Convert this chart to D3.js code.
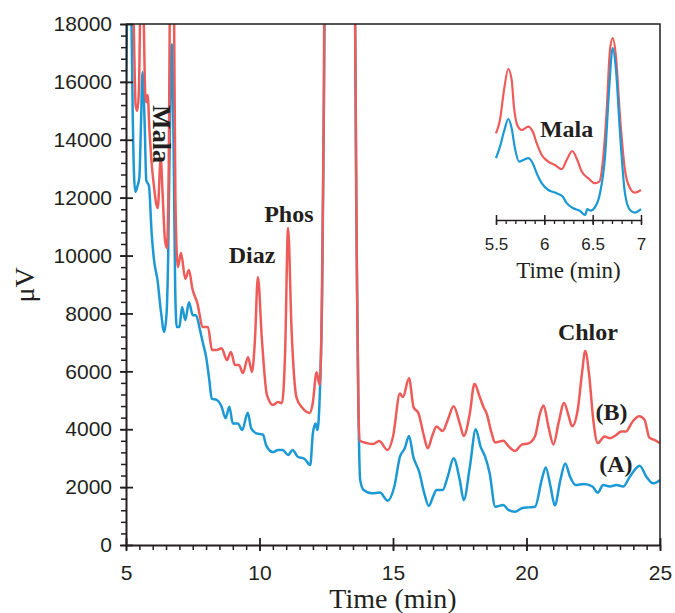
<!DOCTYPE html>
<html>
<head>
<meta charset="utf-8">
<script src="https://cdn.jsdelivr.net/npm/d3@7"></script>
<style>
  body { margin: 0; background: #fff; }
  #chart { width: 675px; height: 613px; }
  .axis path, .axis line { stroke: #231f20; }
  .axis text { font-family: "Liberation Sans", Arial, sans-serif; fill: #231f20; }
  .axisLabel { font-family: "Liberation Serif", "Times New Roman", serif; fill: #231f20; }
  .peak { font-family: "Liberation Serif", "Times New Roman", serif; font-weight: bold; fill: #231f20; }
</style>
</head>
<body>
<div id="chart"></div>
<script>
/*DATA: [time (min), signal (uV)]*/
const traceB = [
  [5.0,24000],[5.27,19000],[5.36,15200],[5.42,15000],[5.48,15600],[5.54,19000],[5.6,22000],
  [5.66,18500],[5.72,15600],[5.76,15300],[5.81,15550],[5.88,14300],[5.95,13300],[6.05,12370],
  [6.13,11800],[6.19,11640],[6.3,13370],[6.37,12160],[6.46,10530],[6.53,10260],[6.6,13000],
  [6.64,18500],[6.72,25000],[6.8,18500],[6.85,12000],[6.94,9600],[7.06,10090],[7.22,9200],
  [7.36,9500],[7.48,8880],[7.67,8360],[7.88,7530],[8.07,7530],[8.22,6740],[8.4,6740],
  [8.58,6800],[8.78,6390],[8.93,6670],[9.08,6220],[9.23,6220],[9.38,5940],[9.57,6490],
  [9.72,5980],[9.83,7100],[9.94,9260],[10.09,7100],[10.28,5180],[10.51,4840],[10.69,4940],
  [10.84,4900],[10.96,6670],[11.07,10950],[11.2,7460],[11.39,5080],[11.61,4730],[11.88,4560],
  [11.99,4870],[12.14,5970],[12.25,5530],[12.33,8000],[12.4,14000],[12.45,22000],
  [13.5,22000],[13.6,16000],[13.65,9000],[13.71,4500],[13.76,3600],[14.02,3520],[14.26,3490],
  [14.48,3590],[14.8,3280],[15.0,3740],[15.26,5230],[15.37,5110],[15.6,5760],[15.77,4760],
  [15.95,4560],[16.15,3800],[16.3,3340],[16.48,3800],[16.63,4090],[16.86,3940],[17.05,4320],
  [17.27,4790],[17.5,4200],[17.65,3770],[17.88,4560],[18.05,5570],[18.24,5140],[18.4,4740],
  [18.5,4560],[18.69,3880],[18.82,3540],[19.13,3600],[19.32,3420],[19.57,3250],[19.82,3470],
  [20.07,3510],[20.32,3760],[20.51,4560],[20.64,4820],[20.82,4100],[21.01,3470],[21.2,4220],
  [21.41,4910],[21.58,4450],[21.71,4100],[21.92,4680],[22.08,5950],[22.2,6700],[22.35,5840],
  [22.5,4330],[22.67,3520],[22.92,3750],[23.13,3690],[23.36,3800],[23.54,3920],[23.72,3920],
  [23.97,4260],[24.22,4450],[24.42,4330],[24.6,3710],[24.79,3630],[25.0,3520]
];

const traceA = [
  [5.0,15900],[5.05,19000],[5.12,22000],[5.2,18500],[5.25,15000],[5.3,12800],[5.35,12200],
  [5.43,12400],[5.5,12700],[5.56,14500],[5.62,16340],[5.7,14500],[5.76,12600],[5.86,12400],
  [5.96,10780],[6.05,9840],[6.18,9150],[6.31,8060],[6.43,7360],[6.52,8000],[6.58,10000],
  [6.64,14000],[6.72,17300],[6.78,14000],[6.84,9000],[6.9,7530],[7.0,7530],[7.1,8220],
  [7.22,7770],[7.36,8390],[7.5,7940],[7.62,7940],[7.77,7430],[7.88,6980],[8.0,6500],
  [8.12,5700],[8.21,5060],[8.4,5010],[8.58,4780],[8.73,4380],[8.87,4780],[9.0,4200],
  [9.19,4200],[9.35,3970],[9.56,4570],[9.69,4030],[9.88,3860],[10.13,3810],[10.25,3440],
  [10.5,3210],[10.69,3280],[10.87,3280],[11.07,3110],[11.24,3280],[11.43,3050],[11.68,2980],
  [11.9,2760],[12.0,3870],[12.1,4200],[12.17,3970],[12.25,5000],[12.35,9000],[12.42,16000],
  [12.47,22000],[13.55,22000],[13.62,12000],[13.7,5000],[13.77,2250],[13.9,1900],[14.2,1790],
  [14.51,1810],[14.8,1530],[15.05,2020],[15.26,3050],[15.44,3340],[15.6,3770],[15.76,3050],
  [15.98,2530],[16.17,1790],[16.34,1350],[16.5,1670],[16.63,1900],[16.86,1900],[17.05,2360],
  [17.27,3000],[17.5,2250],[17.65,1550],[17.88,2710],[18.1,4000],[18.28,3400],[18.45,3050],
  [18.62,2480],[18.83,1320],[19.13,1380],[19.32,1210],[19.57,1150],[19.82,1270],[20.07,1300],
  [20.32,1320],[20.57,2250],[20.72,2680],[20.9,2020],[21.06,1370],[21.27,2250],[21.45,2820],
  [21.63,2360],[21.84,2070],[22.15,2110],[22.47,2020],[22.67,1810],[22.87,2070],[23.12,2020],
  [23.37,2070],[23.62,2020],[23.87,2360],[24.24,2740],[24.49,2360],[24.74,2130],[25.0,2250]
];

/*INSET: 5.5 - 7 min, relative response*/
const insetB = [
  [5.5,4330],[5.541,5000],[5.583,6500],[5.627,7550],[5.662,7000],[5.686,5650],[5.72,4750],
  [5.766,4500],[5.834,4670],[5.88,4420],[5.921,3840],[5.973,3250],[6.041,2920],[6.11,2750],
  [6.18,2540],[6.231,3000],[6.289,3450],[6.341,3000],[6.387,2420],[6.455,2090],[6.524,1840],
  [6.569,1920],[6.61,3170],[6.645,5500],[6.679,8500],[6.707,9090],[6.741,8170],[6.783,5170],
  [6.834,2500],[6.886,1590],[6.938,1370],[7.0,1500]
];

const insetA = [
  [5.5,3090],[5.541,3670],[5.587,4500],[5.627,5050],[5.662,4590],[5.696,3590],[5.738,2920],
  [5.782,3000],[5.834,3090],[5.88,2840],[5.921,2340],[5.973,1840],[6.041,1500],[6.11,1370],
  [6.19,1170],[6.231,840],[6.3,590],[6.369,450],[6.421,250],[6.445,540],[6.48,470],
  [6.524,640],[6.576,1340],[6.628,3170],[6.672,6670],[6.707,8590],[6.741,7500],[6.783,4340],
  [6.834,1340],[6.886,500],[6.938,370],[7.0,540]
];

const xTicks = [5, 10, 15, 20, 25];
const yTicks = d3.range(0, 18001, 2000);
const insetTicks = [5.5, 6, 6.5, 7];

/*CANVAS*/
const width = 675;
const height = 613;
const margin = {top: 24, left: 126, right: 15, bottom: 68};

const svg = d3.select("#chart")
  .append("svg")
  .attr("width", width)
  .attr("height", height);

const red = "#ee5c5a";
const blue = "#1c99d4";
const ink = "#231f20";

/*SCALES*/
const xScale = d3.scaleLinear()
  .domain([5, 25])
  .range([margin.left, width - margin.right]);

const yScale = d3.scaleLinear()
  .domain([0, 18000])
  .range([height - margin.bottom, margin.top]);

const xInset = d3.scaleLinear()
  .domain([5.5, 7])
  .range([496, 641]);

const yInset = d3.scaleLinear()
  .domain([0, 10000])
  .range([220, 20]);

svg.append("clipPath")
  .attr("id", "plotClip")
  .append("rect")
  .attr("x", margin.left)
  .attr("y", margin.top)
  .attr("width", width - margin.right - margin.left)
  .attr("height", height - margin.bottom - margin.top);

/*LINES*/
const line = d3.line()
  .x(d => xScale(d[0]))
  .y(d => yScale(d[1]))
  .curve(d3.curveMonotoneX);

const insetLine = d3.line()
  .x(d => xInset(d[0]))
  .y(d => yInset(d[1]))
  .curve(d3.curveMonotoneX);

const plot = svg.append("g").attr("clip-path", "url(#plotClip)");

plot.append("path")
  .datum(traceA)
  .attr("d", line)
  .attr("fill", "none")
  .attr("stroke", blue)
  .attr("stroke-width", 2.5);

plot.append("path")
  .datum(traceB)
  .attr("d", line)
  .attr("fill", "none")
  .attr("stroke", red)
  .attr("stroke-width", 2.5);

svg.append("path")
  .datum(insetB)
  .attr("d", insetLine)
  .attr("fill", "none")
  .attr("stroke", red)
  .attr("stroke-width", 2.2);

svg.append("path")
  .datum(insetA)
  .attr("d", insetLine)
  .attr("fill", "none")
  .attr("stroke", blue)
  .attr("stroke-width", 2.2);

/*FRAME (top and right)*/
svg.append("path")
  .attr("d", `M${xScale(5)},${yScale(18000)}H${xScale(25)}V${yScale(0)}`)
  .attr("fill", "none")
  .attr("stroke", ink)
  .attr("stroke-width", 1.5);

/*AXES*/
// minor ticks first, majors on top
svg.append("g")
  .attr("class", "axis")
  .attr("transform", `translate(0,${height - margin.bottom})`)
  .call(d3.axisBottom(xScale).tickValues(d3.range(5, 25.01, 0.5)).tickSize(5).tickFormat(""))
  .call(g => g.select(".domain").remove())
  .selectAll("line").attr("stroke-width", 1.5);

svg.append("g")
  .attr("class", "axis")
  .attr("transform", `translate(${margin.left},0)`)
  .call(d3.axisLeft(yScale).tickValues(d3.range(0, 18001, 400)).tickSize(5).tickFormat(""))
  .call(g => g.select(".domain").remove())
  .selectAll("line").attr("stroke-width", 1.5);

const xAxis = svg.append("g")
  .attr("class", "axis")
  .attr("transform", `translate(0,${height - margin.bottom})`)
  .call(d3.axisBottom(xScale).tickValues(xTicks).tickSizeInner(6).tickSizeOuter(0).tickPadding(14));
xAxis.select(".domain").attr("stroke-width", 2);
xAxis.selectAll(".tick line").attr("y1", -7).attr("stroke-width", 1.8);
xAxis.selectAll("text").attr("font-size", 21);

const yAxis = svg.append("g")
  .attr("class", "axis")
  .attr("transform", `translate(${margin.left},0)`)
  .call(d3.axisLeft(yScale).tickValues(yTicks).tickSizeInner(6).tickSizeOuter(0)
    .tickPadding(8).tickFormat(d3.format("d")));
yAxis.select(".domain").attr("stroke-width", 2);
yAxis.selectAll(".tick line").attr("x1", 7).attr("stroke-width", 1.8);
yAxis.selectAll("text").attr("font-size", 21);

/*INSET AXIS*/
svg.append("g")
  .attr("class", "axis")
  .attr("transform", "translate(0,220)")
  .call(d3.axisBottom(xInset).tickValues(d3.range(5.5, 7.001, 0.1)).tickSize(4).tickFormat(""))
  .call(g => g.select(".domain").remove())
  .selectAll("line").attr("stroke-width", 1.3);

const insetAxis = svg.append("g")
  .attr("class", "axis")
  .attr("transform", "translate(0,220)")
  .call(d3.axisBottom(xInset).tickValues(insetTicks).tickSizeInner(5).tickSizeOuter(0)
    .tickPadding(13).tickFormat(d3.format("")));
insetAxis.select(".domain").attr("stroke-width", 1.6);
insetAxis.selectAll(".tick line").attr("y1", -5).attr("stroke-width", 1.5);
insetAxis.selectAll("text").attr("font-size", 17);

/*AXIS LABELS*/
svg.append("text")
  .attr("class", "axisLabel")
  .attr("x", (xScale(5) + xScale(25)) / 2)
  .attr("y", 608)
  .attr("text-anchor", "middle")
  .attr("font-size", 28)
  .text("Time (min)");

svg.append("text")
  .attr("class", "axisLabel")
  .attr("transform", "translate(34,285) rotate(-90)")
  .attr("text-anchor", "middle")
  .attr("font-size", 28)
  .text("μV");

svg.append("text")
  .attr("class", "axisLabel")
  .attr("x", xInset(6.25))
  .attr("y", 278)
  .attr("text-anchor", "middle")
  .attr("font-size", 23)
  .text("Time (min)");

/*PEAK LABELS*/
function peakLabel(x, y, txt) {
  svg.append("text")
    .attr("class", "peak")
    .attr("x", x)
    .attr("y", y)
    .attr("text-anchor", "middle")
    .attr("font-size", 24)
    .text(txt);
}
peakLabel(xScale(9.72), yScale(9740), "Diaz");
peakLabel(xScale(11.1), yScale(11160), "Phos");
peakLabel(xScale(22.3), yScale(7080), "Chlor");
peakLabel(xScale(23.18), yScale(4320), "(B)");
peakLabel(xScale(23.35), yScale(2520), "(A)");
peakLabel(xInset(6.23), yInset(4150), "Mala");

svg.append("text")
  .attr("class", "peak")
  .attr("transform", `translate(${xScale(6.01)},${yScale(14200)}) rotate(90)`)
  .attr("text-anchor", "middle")
  .attr("font-size", 26)
  .text("Mala");
</script>
</body>
</html>
